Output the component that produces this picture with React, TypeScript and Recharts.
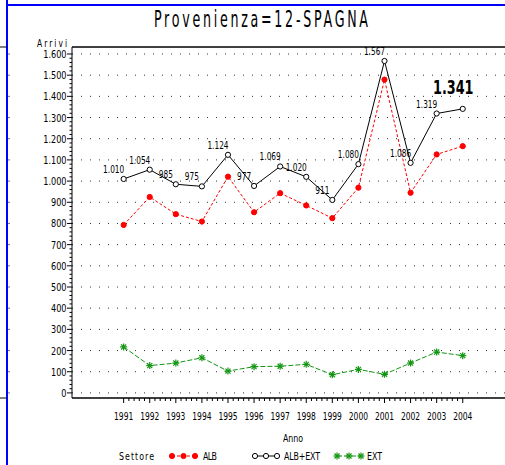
import { LineChart, Line, XAxis, YAxis, ReferenceLine, LabelList } from 'recharts';

const years = [1991, 1992, 1993, 1994, 1995, 1996, 1997, 1998, 1999, 2000, 2001, 2002, 2003, 2004];
const albExt = [1010, 1054, 985, 975, 1124, 977, 1069, 1020, 911, 1080, 1567, 1086, 1319, 1341];
const alb = [793, 925, 844, 809, 1021, 853, 943, 885, 825, 969, 1479, 945, 1126, 1165];
const ext = [217, 129, 141, 166, 103, 124, 126, 135, 86, 111, 88, 141, 193, 176];
const yMajor = [0, 100, 200, 300, 400, 500, 600, 700, 800, 900, 1000, 1100, 1200, 1300, 1400, 1500, 1600];

const Y_DOMAIN: [number, number] = [-24, 1633];
const X_DOMAIN: [number, number] = [1989.02, 2005.62];

// minor ticks: every 20 on Y, every 1/5 year on X
const yTicks: number[] = [];
for (let v = 0; v <= 1600; v += 20) yTicks.push(v);
const xTicks: number[] = [];
for (let i = 0; i <= (2004 - 1991) * 5; i++) xTicks.push(1991 + i / 5);

const data = years.map((y, i) => ({ year: y, alb: alb[i], albExt: albExt[i], ext: ext[i] }));

const RED = '#ff0000';
const GREEN = '#129612';
const FONT = '"DejaVu Sans", sans-serif';

const fmt = (v: number) =>
  v >= 1000 ? `${Math.floor(v / 1000)}.${String(v % 1000).padStart(3, '0')}` : String(v);

const isInt = (v: number) => Math.abs(v - Math.round(v)) < 1e-6;

// horizontally squeezed text, like the SAS/GRAPH hardware font
const NText = ({ x, y, size, sx, anchor = 'start', weight = 'normal', len, children }: any) => (
  <text
    transform={`translate(${x},${y}) scale(${sx},1)`}
    textAnchor={anchor}
    fontFamily={FONT}
    fontSize={size}
    fontWeight={weight}
    fill="#000"
    textLength={len ? len / sx : undefined}
    lengthAdjust={len ? 'spacing' : undefined}
  >
    {children}
  </text>
);

const YTick = (props: any) => {
  const { x, y, payload } = props;
  const v = payload.value;
  const major = v % 100 === 0;
  return (
    <g>
      <line x1={x - (major ? 5 : 2.5)} x2={x} y1={y} y2={y} stroke="#000" />
      {major && (
        <NText x={x - 5.5} y={y + 4} size={11} sx={0.74} anchor="end">
          {fmt(v)}
        </NText>
      )}
      {major && <line x1={8} x2={10} y1={y} y2={y} stroke="#777" />}
    </g>
  );
};

const XTick = (props: any) => {
  const { x, y, payload } = props;
  const v = payload.value;
  const major = isInt(v);
  return (
    <g>
      <line x1={x} x2={x} y1={y} y2={y + (major ? 5 : 3)} stroke="#000" />
      {major && (
        <NText x={x} y={y + 22} size={10.5} sx={0.72} anchor="middle">
          {Math.round(v)}
        </NText>
      )}
    </g>
  );
};

const RedDot = ({ cx, cy }: { cx: number; cy: number }) => <circle cx={cx} cy={cy} r={2.6} fill={RED} stroke={RED} />;
const OpenDot = ({ cx, cy }: { cx: number; cy: number }) => (
  <circle cx={cx} cy={cy} r={2.6} fill="#fff" stroke="#000" strokeWidth={1} />
);
const Star = ({ cx, cy }: { cx: number; cy: number }) => {
  const r = 3.5;
  const d = r * 0.72;
  return (
    <g stroke={GREEN} strokeWidth={1.2}>
      <line x1={cx - r} x2={cx + r} y1={cy} y2={cy} />
      <line x1={cx} x2={cx} y1={cy - r} y2={cy + r} />
      <line x1={cx - d} x2={cx + d} y1={cy - d} y2={cy + d} />
      <line x1={cx - d} x2={cx + d} y1={cy + d} y2={cy - d} />
    </g>
  );
};

const ValueLabel = (props: any) => {
  const { x, y, value, index } = props;
  if (index === albExt.length - 1) {
    return (
      <NText x={x - 9.5} y={y - 15} size={20} sx={0.64} anchor="middle" weight="bold">
        {fmt(value)}
      </NText>
    );
  }
  return (
    <NText x={x - 10} y={y - 6} size={10} sx={0.74} anchor="middle">
      {fmt(value)}
    </NText>
  );
};

export default function App() {
  return (
    <div style={{ position: 'absolute', left: 0, top: 0, width: 505, height: 465, background: '#fff', overflow: 'hidden' }}>
      <LineChart width={505} height={465} data={data} margin={{ top: 47, right: 0, bottom: 37, left: 12 }}>
        {yMajor.map((v) => (
          <ReferenceLine key={v} y={v} stroke="#333" strokeDasharray="1 8" strokeDashoffset={-9} />
        ))}
        <ReferenceLine y={Y_DOMAIN[1]} stroke="#000" strokeWidth={1.5} />
        <XAxis
          dataKey="year"
          type="number"
          domain={X_DOMAIN}
          ticks={xTicks}
          interval={0}
          tick={<XTick />}
          tickLine={false}
          tickSize={0}
          tickMargin={0}
          height={30}
          axisLine={{ stroke: '#000', strokeWidth: 1.5 }}
        />
        <YAxis
          type="number"
          domain={Y_DOMAIN}
          ticks={yTicks}
          interval={0}
          tick={<YTick />}
          tickLine={false}
          tickSize={0}
          tickMargin={0}
          width={60}
          allowDataOverflow
          axisLine={{ stroke: '#000', strokeWidth: 1 }}
        />
        <Line
          dataKey="alb"
          stroke={RED}
          strokeWidth={1}
          strokeDasharray="3 2"
          dot={(p: any) => <RedDot key={`r${p.index}`} cx={p.cx} cy={p.cy} />}
          isAnimationActive={false}
        />
        <Line
          dataKey="albExt"
          stroke="#000"
          strokeWidth={1}
          dot={(p: any) => <OpenDot key={`b${p.index}`} cx={p.cx} cy={p.cy} />}
          isAnimationActive={false}
        >
          <LabelList dataKey="albExt" content={<ValueLabel />} />
        </Line>
        <Line
          dataKey="ext"
          stroke={GREEN}
          strokeWidth={1}
          strokeDasharray="5 2"
          dot={(p: any) => <Star key={`g${p.index}`} cx={p.cx} cy={p.cy} />}
          isAnimationActive={false}
        />
      </LineChart>
      <svg width={505} height={465} style={{ position: 'absolute', left: 0, top: 0, pointerEvents: 'none' }}>
        <line x1={7} x2={7} y1={0} y2={465} stroke="#0000ff" strokeWidth={2} />
        <line x1={7} x2={505} y1={5} y2={5} stroke="#0000ff" strokeWidth={2} />
        <line x1={0} x2={7} y1={47} y2={47} stroke="#000" />
        <line x1={0} x2={7} y1={398} y2={398} stroke="#000" />
        <NText x={154} y={27} size={23} sx={0.55} len={214}>Provenienza=12-SPAGNA</NText>
        <NText x={37} y={47} size={10.5} sx={0.72} len={30}>Arrivi</NText>
        <NText x={283} y={442} size={10.5} sx={0.75} len={20}>Anno</NText>
        <NText x={119} y={460} size={10.5} sx={0.75} len={35}>Settore</NText>
        <line x1={172} x2={195} y1={456} y2={456} stroke={RED} strokeDasharray="3 2" />
        {[172, 183.5, 195].map((cx) => <RedDot key={cx} cx={cx} cy={456} />)}
        <NText x={203} y={460} size={10.5} sx={0.75} len={14}>ALB</NText>
        <line x1={255} x2={277} y1={456} y2={456} stroke="#000" />
        {[255, 266, 277].map((cx) => <OpenDot key={cx} cx={cx} cy={456} />)}
        <NText x={284} y={460} size={10.5} sx={0.75} len={36}>ALB+EXT</NText>
        <line x1={337} x2={361} y1={456} y2={456} stroke={GREEN} strokeDasharray="5 2" />
        {[337, 349, 361].map((cx) => <Star key={cx} cx={cx} cy={456} />)}
        <NText x={367} y={460} size={10.5} sx={0.75} len={15}>EXT</NText>
      </svg>
    </div>
  );
}
